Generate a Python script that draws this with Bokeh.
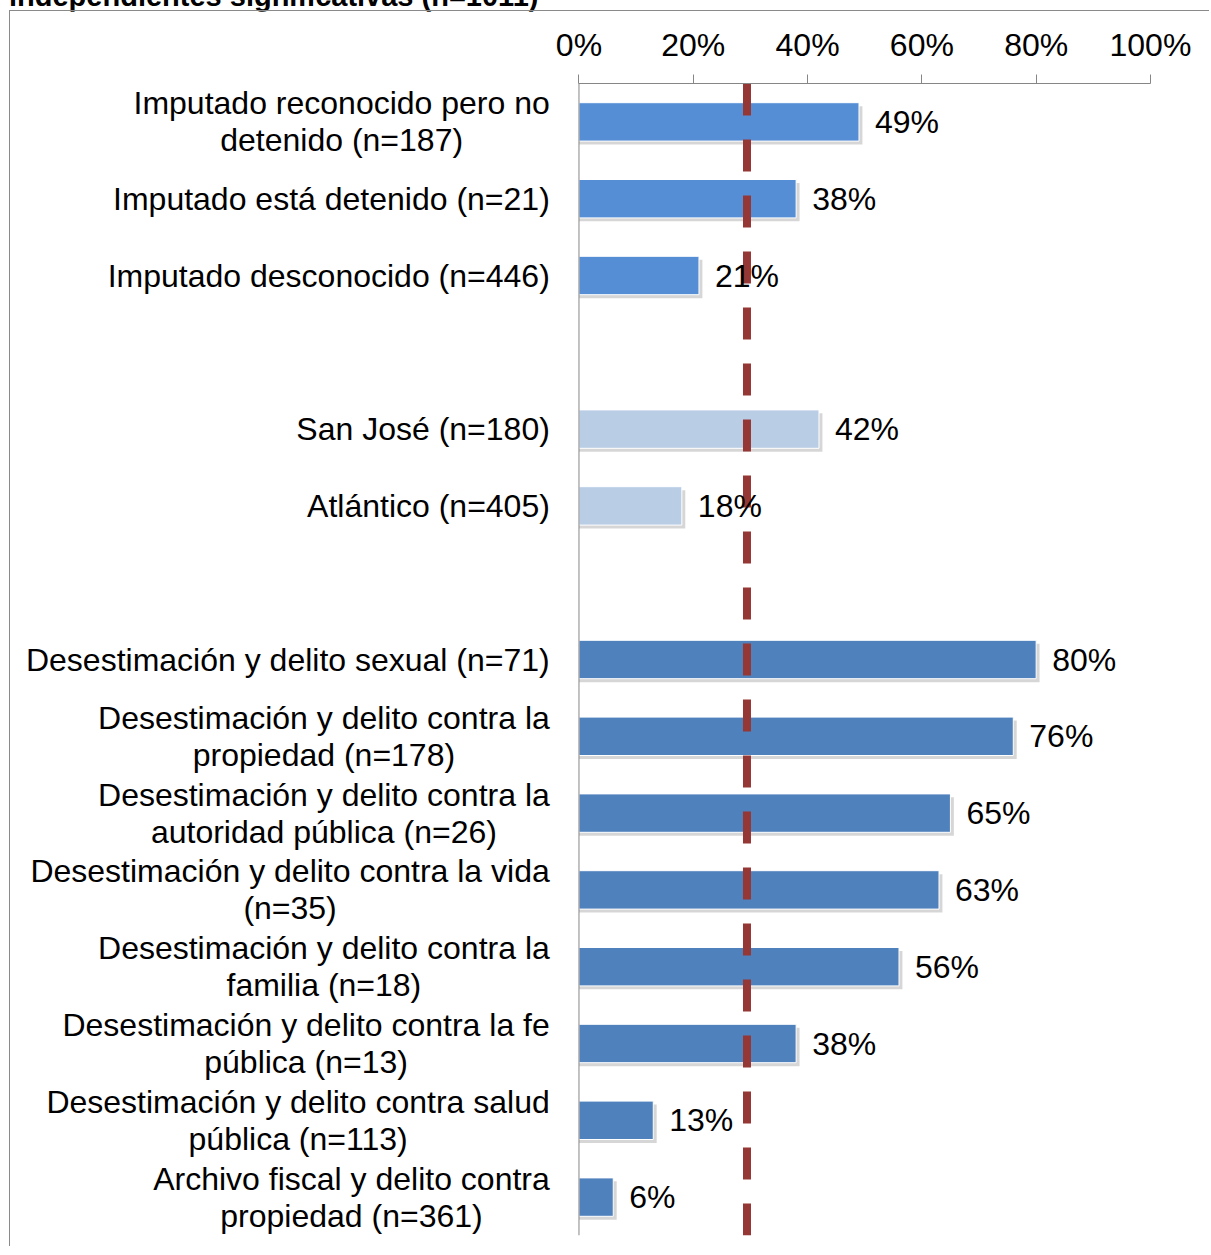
from bokeh.plotting import figure
from bokeh.layouts import column
from bokeh.models import ColumnDataSource, Range1d, FixedTicker, NumeralTickFormatter, Span, Div
from bokeh.core.properties import value
from bokeh.embed import file_html
from bokeh.resources import INLINE

# ---------------- data ----------------
title_text = "independientes significativas (n=1011)"
categories = [
    "Imputado reconocido pero no\ndetenido (n=187)",
    "Imputado está detenido (n=21)",
    "Imputado desconocido (n=446)",
    "San José (n=180)",
    "Atlántico (n=405)",
    "Desestimación y delito sexual (n=71)",
    "Desestimación y delito contra la\npropiedad (n=178)",
    "Desestimación y delito contra la\nautoridad pública (n=26)",
    "Desestimación y delito contra la vida\n(n=35)",
    "Desestimación y delito contra la\nfamilia (n=18)",
    "Desestimación y delito contra la fe\npública (n=13)",
    "Desestimación y delito contra salud\npública (n=113)",
    "Archivo fiscal y delito contra\npropiedad (n=361)",
]
values = [0.49, 0.38, 0.21, 0.42, 0.18, 0.80, 0.76, 0.65, 0.63, 0.56, 0.38, 0.13, 0.06]
groups = ["imputado"] * 3 + ["region"] * 2 + ["desestimacion"] * 8
tick_values = [0, 0.2, 0.4, 0.6, 0.8, 1.0]
reference_line = 0.294

# ---------------- styles / layout ----------------
group_colors = {"imputado": "#558ED5", "region": "#B9CDE5", "desestimacion": "#4F81BD"}
FONT = "Liberation Sans"
FS = 32
AXIS_GREY = "#868686"

CANVAS_W = 1199      # canvas width (px)
ZERO_PX = 568        # canvas x of 0 %
SCALE_PX = 571       # px for 100 %
LABEL_GAP = 29       # gap between category labels and the value axis

# Arial / Liberation Sans advance widths (per 1000 em)
ADV = {" ": 278, "(": 333, ")": 333, "=": 584, "%": 889,
       "A": 667, "D": 722, "I": 278, "J": 500, "S": 667,
       "a": 556, "b": 556, "c": 500, "d": 556, "e": 556, "f": 278, "g": 556, "h": 556,
       "i": 222, "j": 222, "k": 500, "l": 222, "m": 833, "n": 556, "o": 556, "p": 556,
       "q": 556, "r": 333, "s": 500, "t": 278, "u": 556, "v": 500, "w": 722, "x": 500,
       "y": 500, "z": 500, "á": 556, "é": 556, "í": 222, "ó": 556, "ú": 556}
for d in "0123456789":
    ADV[d] = 556


def text_width(s):
    return sum(ADV.get(c, 556) for c in s) * FS / 1000.0


# slot positions: one empty slot between groups
ys = []
slot = 0
prev = None
for g in groups:
    if prev is not None and g != prev:
        slot += 1
    ys.append(slot)
    slot += 1
    prev = g
n_slots = slot

# centre of each (centre-aligned, right-justified) label block, in data units
cat_x = [-(LABEL_GAP + max(text_width(l) for l in c.split("\n")) / 2.0) / SCALE_PX
         for c in categories]

src = ColumnDataSource(dict(
    y=ys,
    value=values,
    color=[group_colors[g] for g in groups],
    pct=["%d%%" % round(v * 100) for v in values],
    cat=categories,
    cat_x=cat_x,
    zero=[0] * len(values),
    sh_right=[v + 0.006 for v in values],
    sh_y=[y + 0.045 for y in ys],
))

p = figure(
    x_range=Range1d(-ZERO_PX / SCALE_PX, (CANVAS_W - ZERO_PX) / SCALE_PX),
    y_range=Range1d(n_slots - 0.5, -0.5),
    x_axis_location="above", y_axis_location=None,
    frame_width=CANVAS_W, frame_height=1151,
    min_border_left=0, min_border_right=0,
    min_border_top=72, min_border_bottom=12,
    output_backend="svg", toolbar_location=None,
    margin=0,
)
p.styles = {"margin-left": "9px",
            "border-left": "1px solid #8a8a8a", "border-top": "1px solid #8a8a8a"}
p.outline_line_color = None
p.xgrid.visible = False
p.ygrid.visible = False
p.background_fill_color = "white"
p.border_fill_color = "white"

xa = p.xaxis[0]
xa.bounds = (0, 1)
xa.ticker = FixedTicker(ticks=tick_values)
xa.formatter = NumeralTickFormatter(format="0%")
xa.major_label_text_font = FONT
xa.major_label_text_font_size = "%dpx" % FS
xa.major_label_text_color = "black"
xa.axis_line_color = AXIS_GREY
xa.major_tick_line_color = AXIS_GREY
xa.major_tick_out = 9
xa.major_tick_in = 0
xa.minor_tick_line_color = None
xa.major_label_standoff = 12

# category axis line
p.add_layout(Span(location=0, dimension="height", line_color=AXIS_GREY, line_width=1))

# shadows
p.hbar(y="sh_y", left="zero", right="sh_right", height=0.5, source=src,
       fill_color="black", fill_alpha=0.16, line_color=None)
# bars
p.hbar(y="y", left="zero", right="value", height=0.5, source=src,
       fill_color="color", line_color="white", line_width=1)

# reference dashed line
p.line(x=[reference_line, reference_line], y=[-0.5, n_slots - 0.5],
       line_width=8, line_color="#953735", line_dash="32 24", line_cap="butt")

# value labels
p.text(x="value", y="y", text="pct", source=src, x_offset=16,
       text_baseline="middle", text_align="left",
       text_font=value(FONT), text_font_size=value("%dpx" % FS), text_color="black")

# category labels
p.text(x="cat_x", y="y", text="cat", source=src,
       text_baseline="middle", text_align="center", text_line_height=1.03,
       text_font=value(FONT), text_font_size=value("%dpx" % FS), text_color="black")

# title (cropped at the top of the page, as in the original)
title_div = Div(
    text=('<div style="position:relative;top:-18px;left:9px;white-space:nowrap;'
          'font-family:\'Liberation Sans\';font-weight:bold;font-size:29px;'
          'line-height:29px;color:black;">%s</div>' % title_text),
    width=700, height=10, margin=0,
)

layout = column(title_div, p, spacing=0, margin=0)
open("out.html", "w").write(file_html(layout, INLINE))
